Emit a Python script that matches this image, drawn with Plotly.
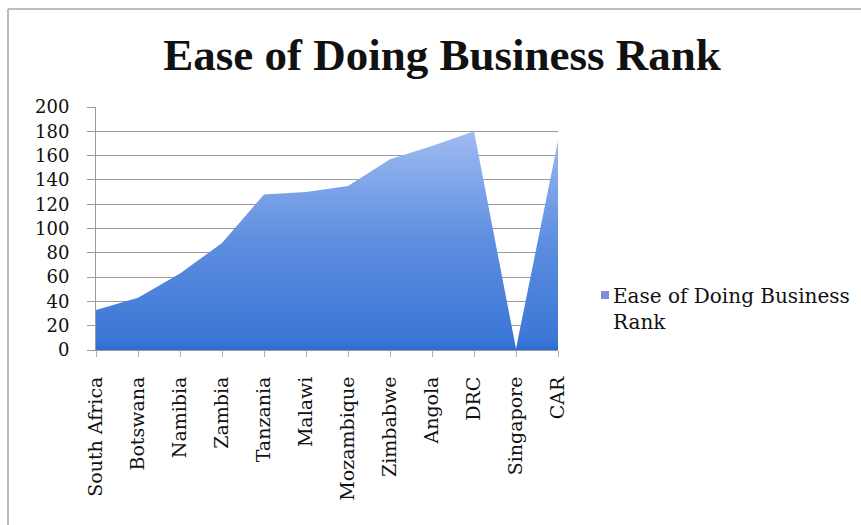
import plotly.graph_objects as go

# Ease of Doing Business ranking per country
countries = ["South Africa", "Botswana", "Namibia", "Zambia", "Tanzania", "Malawi",
             "Mozambique", "Zimbabwe", "Angola", "DRC", "Singapore", "CAR"]
rank = [33, 43, 63, 88, 128, 130, 135, 157, 168, 180, 1, 172]
y_ticks = [0, 20, 40, 60, 80, 100, 120, 140, 160, 180, 200]

W, H = 861, 525
ML, MR, MT, MB = 96, 303, 107, 175
PW, PH = W - ML - MR, H - MT - MB


def px(x):
    return (x - ML) / PW


def py(y):
    return (H - MB - y) / PH


serif = "DejaVu Serif"
title_font = "Liberation Serif"

fig = go.Figure()
fig.add_trace(go.Scatter(
    x=list(range(len(countries))), y=rank,
    mode="lines", line=dict(width=0, color="#4a7fd8"),
    fill="tozeroy",
    fillgradient=dict(type="vertical", start=0, stop=185,
                      colorscale=[[0, "#2c6ccf"], [0.04, "#3b77d6"],
                                  [0.5, "#5f8fe0"], [1, "#a3bdf3"]]),
    showlegend=False, hoverinfo="x+y",
))

fig.update_layout(
    width=W, height=H,
    margin=dict(l=ML, r=MR, t=MT, b=MB),
    paper_bgcolor="white", plot_bgcolor="white",
    title=dict(text="<b>Ease of Doing Business Rank</b>", xref="container",
               x=442 / W, xanchor="center", yref="container",
               y=1 - 54 / H, yanchor="middle",
               font=dict(family=title_font, size=45, color="#111111")),
    xaxis=dict(range=[0, len(countries) - 1], tickvals=list(range(len(countries))),
               ticktext=countries, tickangle=-90, showgrid=False, zeroline=False,
               showline=True, linecolor="#9a9a9a", ticks="outside", ticklen=6,
               tickcolor="#b0b0b0", ticklabelstandoff=12,
               tickfont=dict(family=serif, size=19, color="#111111")),
    yaxis=dict(range=[0, 200], tickvals=y_ticks, showgrid=True, gridcolor="#9a9a9a",
               gridwidth=1, zeroline=False, showline=True, linecolor="#9a9a9a",
               ticks="outside", ticklen=8, tickcolor="#9a9a9a", ticklabelstandoff=14,
               tickfont=dict(family=serif, size=18, color="#111111")),
    shapes=[
        # chart border
        dict(type="line", xref="paper", yref="paper", x0=px(8), x1=px(861),
             y0=py(9), y1=py(9), line=dict(color="#a8a8a8", width=1.5)),
        dict(type="line", xref="paper", yref="paper", x0=px(8), x1=px(8),
             y0=py(9), y1=py(525), line=dict(color="#a8a8a8", width=1.5)),
        # legend key
        dict(type="rect", xref="paper", yref="paper", x0=px(601), x1=px(609),
             y0=py(299), y1=py(291), fillcolor="#7d8fd8", line=dict(width=0)),
    ],
    annotations=[
        dict(text="Ease of Doing Business<br>Rank", xref="paper", yref="paper",
             x=px(611), y=py(282), xanchor="left", yanchor="top", align="left",
             showarrow=False, font=dict(family=serif, size=20, color="#111111")),
    ],
)

fig.write_html("out.html")
